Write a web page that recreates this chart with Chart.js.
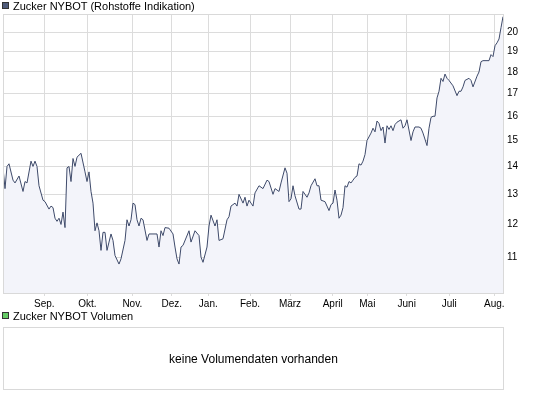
<!DOCTYPE html>
<html>
<head>
<meta charset="utf-8">
<script src="https://cdn.jsdelivr.net/npm/chart.js@4"></script>
<style>
  body { margin: 0; background: #fff; font-family: "Liberation Sans", Arial, sans-serif; color: #000; }
  #wrap { position: relative; width: 545px; height: 395px; overflow: hidden; }
  .legend { position: absolute; left: 13px; font-size: 11px; white-space: nowrap; }
  .box { position: absolute; left: 2px; width: 5px; height: 5px; border: 1px solid #333; }
  #volPanel { position: absolute; left: 3px; top: 327px; width: 499px; height: 61px; border: 1px solid #d9d9d9;
              display: flex; align-items: center; justify-content: center; font-size: 12px; }
</style>
</head>
<body>
<div id="wrap">
  <canvas id="chart1" width="545" height="312" style="position:absolute;left:0;top:0;"></canvas>
  <div class="box" style="top:2px;background:#4f5b7a;"></div>
  <div class="legend" style="top:0px;">Zucker NYBOT (Rohstoffe Indikation)</div>
  <div class="box" style="top:312px;background:#66cc66;"></div>
  <div class="legend" style="top:310px;">Zucker NYBOT Volumen</div>
  <div id="volPanel">keine Volumendaten vorhanden</div>
</div>
<script>
// trading day index since start of the period
var days = [0, 1, 2, 3, 5, 6, 8, 10, 11, 12, 14, 15, 16, 17, 18, 20, 21, 23, 24, 25, 26, 27, 28, 29, 30, 31,
    32, 33, 34, 35, 36, 37, 39, 41, 42, 43, 44, 45, 46, 47, 48, 49, 50, 51, 52, 53, 54, 55, 56, 58, 59,
    61, 62, 63, 64, 65, 66, 67, 68, 69, 70, 72, 73, 75, 77, 78, 79, 80, 81, 83, 85, 86, 87, 88, 89, 90,
    93, 94, 96, 98, 99, 100, 102, 103, 104, 106, 107, 108, 110, 112, 113, 114, 116, 117, 118, 120, 121,
    122, 123, 124, 125, 126, 128, 130, 132, 133, 135, 136, 138, 139, 141, 142, 143, 144, 145, 146, 148,
    149, 150, 152, 153, 154, 156, 157, 158, 159, 161, 162, 163, 164, 165, 166, 167, 168, 169, 170, 171,
    172, 173, 174, 175, 176, 177, 178, 179, 180, 181, 182, 184, 185, 186, 187, 188, 189, 190, 191, 192,
    193, 194, 195, 196, 197, 199, 200, 201, 202, 204, 205, 206, 208, 209, 210, 212, 213, 214, 215, 216,
    217, 218, 219, 220, 221, 222, 223, 225, 227, 228, 229, 230, 231, 233, 234, 235, 237, 238, 239, 240,
    243, 244, 245, 246, 247, 248, 249, 250];

var prices = [13.95, 13.2, 14.0, 14.1, 13.5, 13.4, 13.65, 13.1, 13.45, 13.4, 14.2, 14.0, 14.2, 14.0, 13.3,
    12.8, 12.75, 12.5, 12.6, 12.55, 12.2, 12.1, 12.2, 12.0, 12.4, 11.9,
    13.95, 14.0, 13.45, 14.3, 14.0, 14.35, 14.5, 13.8, 13.45, 13.8, 13.1, 12.7, 11.8, 12.05, 11.8, 11.2,
    11.75, 11.75, 11.2, 11.45, 11.7, 11.5, 11.05, 10.8, 10.95,
    11.5, 12.15, 11.95, 12.15, 12.7, 12.65, 12.15, 11.95, 12.2, 12.15, 11.5, 11.7, 11.7, 11.7, 11.3, 11.8,
    11.65, 11.9, 11.88, 11.7, 11.3, 10.95, 10.8, 11.3, 11.35,
    11.8, 11.45, 11.8, 11.65, 11.0, 10.85, 11.3, 11.95, 12.3, 11.95, 12.15, 11.5, 11.55, 12.15, 12.25,
    12.6, 12.7, 12.6, 13.0, 12.7, 12.9,
    12.6, 12.8, 12.7, 12.6, 13.05, 13.3, 13.2, 13.5, 13.45, 13.0, 13.2, 13.1, 13.4, 13.95, 13.75, 12.75,
    12.85, 13.3, 12.95, 12.5,
    12.5, 13.1, 12.9, 13.05, 13.3, 13.55, 13.3, 13.3, 12.8, 12.75, 12.6, 12.45, 12.65, 12.7, 13.15, 12.8,
    12.2, 12.3, 12.55, 13.3,
    13.25, 13.45, 13.4, 13.5, 13.6, 13.65, 14.1, 14.05, 14.2, 14.45, 15.0, 15.3, 15.5, 15.35, 15.8, 15.7,
    15.4, 15.55, 14.9, 15.6,
    15.45, 15.6, 15.4, 15.65, 15.75, 15.85, 15.5, 15.6, 15.85, 15.0, 15.35, 15.55, 15.55, 15.5, 15.3,
    14.8, 15.5, 15.95, 16.0, 16.0,
    16.8, 17.1, 17.7, 17.55, 17.9, 17.7, 17.6, 17.35, 16.9, 17.1, 17.1, 17.3, 17.6, 17.7, 17.6, 17.3,
    17.8, 18.0, 18.5, 18.55,
    18.55, 18.85, 18.75, 19.3, 19.45, 19.65, 20.25, 20.85];

var monthDays = [20.65, 42.15, 64.65, 84.35, 102.65, 123.5, 143.5, 164.85, 182.15, 201.85, 223.15, 245.65];
var monthLabels = ["Sep.", "Okt.", "Nov.", "Dez.", "Jan.", "Feb.", "März", "April", "Mai", "Juni", "Juli", "Aug."];
var priceTicks = [11, 12, 13, 14, 15, 16, 17, 18, 19, 20];

var points = days.map(function (d, i) { return { x: d, y: prices[i] }; });

var frame = {
    id: 'frame',
    afterDraw: function (chart) {
        var a = chart.chartArea, ctx = chart.ctx;
        ctx.save();
        ctx.strokeStyle = '#d9d9d9';
        ctx.lineWidth = 1;
        ctx.strokeRect(Math.round(a.left) + 0.5, Math.round(a.top) + 0.5,
            Math.round(a.right - a.left), Math.round(a.bottom - a.top));
        ctx.restore();
    }
};

var canvas = document.getElementById('chart1').getContext('2d');

new Chart(canvas, {
    type: 'line',
    data: {
        datasets: [{
            label: "Zucker NYBOT (Rohstoffe Indikation)",
            data: points,
            borderColor: "#3e4a6a",
            borderWidth: 1,
            backgroundColor: "#f3f4fa",
            fill: 'start',
            pointRadius: 0,
            tension: 0
        }]
    },
    options: {
        responsive: false,
        animation: false,
        devicePixelRatio: 1,
        layout: { padding: { left: 3, top: 14, right: 0, bottom: 0 } },
        plugins: { legend: { display: false }, tooltip: { enabled: false } },
        scales: {
            x: {
                type: 'linear',
                min: 0,
                max: 250,
                afterBuildTicks: function (s) {
                    s.ticks = monthDays.map(function (v) { return { value: v }; });
                },
                afterFit: function (s) { s.height = 19; },
                grid: { color: '#dcdcdc', tickLength: 3, drawTicks: true },
                border: { display: false },
                ticks: {
                    autoSkip: false,
                    maxRotation: 0,
                    padding: 2,
                    color: '#000',
                    font: { family: "Liberation Sans", size: 10 },
                    callback: function (v, i) { return monthLabels[i]; }
                }
            },
            y: {
                type: 'logarithmic',
                position: 'right',
                min: 10,
                max: 21,
                afterBuildTicks: function (s) {
                    s.ticks = priceTicks.map(function (v) { return { value: v }; });
                },
                afterFit: function (s) { s.width = 42; },
                grid: { color: '#dcdcdc', drawTicks: false },
                border: { display: false },
                ticks: {
                    padding: 4,
                    color: '#000',
                    font: { family: "Liberation Sans", size: 10 },
                    callback: function (v) { return String(v); }
                }
            }
        }
    },
    plugins: [frame]
});
</script>
</body>
</html>
